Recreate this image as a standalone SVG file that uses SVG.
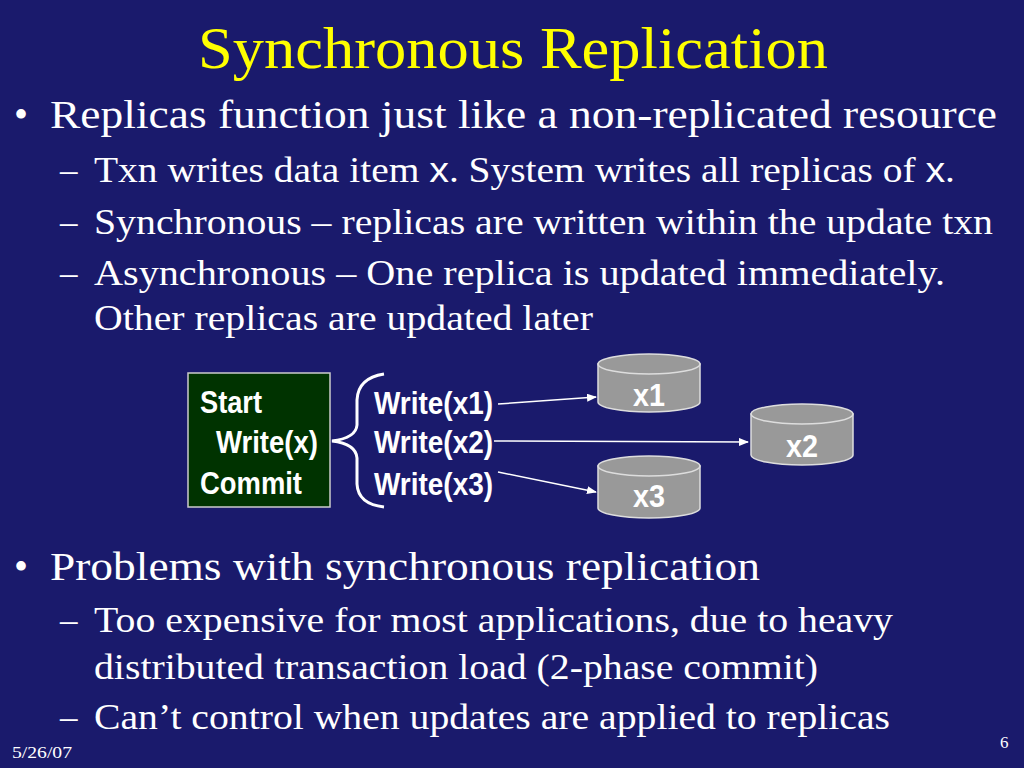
<svg xmlns="http://www.w3.org/2000/svg" width="1024" height="768" viewBox="0 0 1024 768">
<style>
.s{font-family:"Liberation Serif",serif;fill:#fff}
.b{font-family:"Liberation Sans",Arial,sans-serif;font-weight:bold;fill:#fff;font-size:29px}
.t{font-size:32px}
.cyl{fill:#999;stroke:#ddd;stroke-width:1.5}
.ar{stroke:#fff;stroke-width:1.5;fill:none;marker-end:url(#ah)}
</style>
<defs><marker id="ah" markerWidth="10" markerHeight="8" refX="9" refY="4" orient="auto" markerUnits="userSpaceOnUse"><path d="M0,0 L10,4 L0,8 Z" fill="#fff"/></marker></defs>
<rect width="1024" height="768" fill="#1a1a6c"/>
<text x="198" y="68" class="s" style="fill:#ffff00;font-size:60px" textLength="630" lengthAdjust="spacingAndGlyphs">Synchronous Replication</text>
<g class="s" style="font-size:40px">
<text x="14" y="128">•</text><text x="50" y="128" textLength="947" lengthAdjust="spacingAndGlyphs">Replicas function just like a non-replicated resource</text>
<text x="14" y="580">•</text><text x="50" y="580" textLength="710" lengthAdjust="spacingAndGlyphs">Problems with synchronous replication</text>
</g>
<g class="s" style="font-size:35px">
<text x="60" y="182">–</text><text x="94" y="182" textLength="861" lengthAdjust="spacingAndGlyphs">Txn writes data item <tspan font-family="Liberation Sans,sans-serif">x</tspan>. System writes all replicas of <tspan font-family="Liberation Sans,sans-serif">x</tspan>.</text>
<text x="60" y="234">–</text><text x="94" y="234" textLength="899" lengthAdjust="spacingAndGlyphs">Synchronous – replicas are written within the update txn</text>
<text x="60" y="285">–</text><text x="94" y="285" textLength="851" lengthAdjust="spacingAndGlyphs">Asynchronous – One replica is updated immediately.</text>
<text x="94" y="330" textLength="499" lengthAdjust="spacingAndGlyphs">Other replicas are updated later</text>
<text x="60" y="632">–</text><text x="94" y="632" textLength="799" lengthAdjust="spacingAndGlyphs">Too expensive for most applications, due to heavy</text>
<text x="94" y="679" textLength="724" lengthAdjust="spacingAndGlyphs">distributed transaction load (2-phase commit)</text>
<text x="60" y="729">–</text><text x="94" y="729" textLength="796" lengthAdjust="spacingAndGlyphs">Can’t control when updates are applied to replicas</text>
</g>
<text x="12" y="758" class="s" style="font-size:17px" textLength="60" lengthAdjust="spacingAndGlyphs">5/26/07</text>
<text x="1000" y="748" class="s" style="font-size:17px">6</text>
<g id="txn">
<rect x="188" y="373" width="142" height="134" fill="#003300" stroke="#ccc" stroke-width="1.5"/>
<text x="200" y="413" class="b t" textLength="62" lengthAdjust="spacingAndGlyphs">Start</text>
<text x="216" y="453" class="b t" textLength="102" lengthAdjust="spacingAndGlyphs">Write(x)</text>
<text x="200" y="494" class="b t" textLength="102" lengthAdjust="spacingAndGlyphs">Commit</text>
</g>
<g id="brace"><path d="M384,374 Q358,378 357,400 L357,425 Q356,438 332,441 Q356,444 357,458 L357,484 Q358,504 384,507" fill="none" stroke="#fff" stroke-width="3"/></g>
<g id="writes">
<text x="374" y="414" class="b t" textLength="119" lengthAdjust="spacingAndGlyphs">Write(x1)</text>
<text x="374" y="453" class="b t" textLength="119" lengthAdjust="spacingAndGlyphs">Write(x2)</text>
<text x="374" y="495" class="b t" textLength="119" lengthAdjust="spacingAndGlyphs">Write(x3)</text>
</g>
<g id="x1"><path class="cyl" d="M598,364 L598,402 A51,10 0 0 0 700,402 L700,364 Z"/><ellipse class="cyl" cx="649" cy="364" rx="51" ry="10"/><text x="649" y="406" text-anchor="middle" class="b t" textLength="32" lengthAdjust="spacingAndGlyphs">x1</text></g>
<g id="x2"><path class="cyl" d="M751,414 L751,455 A51,10 0 0 0 853,455 L853,414 Z"/><ellipse class="cyl" cx="802" cy="414" rx="51" ry="10"/><text x="802" y="457" text-anchor="middle" class="b t" textLength="32" lengthAdjust="spacingAndGlyphs">x2</text></g>
<g id="x3"><path class="cyl" d="M598,466 L598,508 A51,10 0 0 0 700,508 L700,466 Z"/><ellipse class="cyl" cx="649" cy="466" rx="51" ry="10"/><text x="649" y="507" text-anchor="middle" class="b t" textLength="32" lengthAdjust="spacingAndGlyphs">x3</text></g>
<g id="connectors">
<line class="ar" x1="498" y1="404" x2="596" y2="397"/>
<line class="ar" x1="494" y1="441" x2="748" y2="442"/>
<line class="ar" x1="498" y1="472" x2="596" y2="492"/>
</g>
</svg>
